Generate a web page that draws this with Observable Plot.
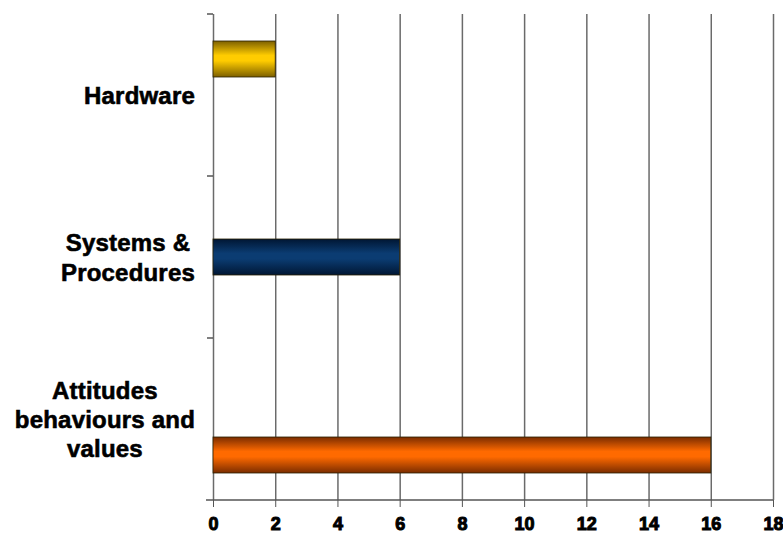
<!DOCTYPE html>
<html>
<head>
<meta charset="utf-8">
<script src="https://cdn.jsdelivr.net/npm/d3@7"></script>
<script src="https://cdn.jsdelivr.net/npm/@observablehq/plot@0.6"></script>
<style>
  html, body { margin: 0; padding: 0; background: #fff; }
  svg { display: block; }
</style>
</head>
<body>
<div id="chart"></div>
<script>
// ---- data ----
const categories = ["Hardware", "Systems & Procedures", "Attitudes behaviours and values"];
const categoryLabels = ["Hardware", "Systems &\nProcedures", "Attitudes\nbehaviours and\nvalues"];
const values = [2, 6, 16];
const xTicks = [0, 2, 4, 6, 8, 10, 12, 14, 16, 18];

// ---- styles (gradient stops per series: edge, centre) ----
const gradients = [
  ["#7d6000", "#ffcc00"],
  ["#001633", "#0b3c72"],
  ["#7a2c00", "#ff6a00"]
];

const data = categories.map((c, i) => ({category: c, value: values[i]}));
const labelOf = new Map(categories.map((c, i) => [c, categoryLabels[i]]));

const chart = Plot.plot({
  width: 783,
  height: 535,
  marginLeft: 213,
  marginRight: 10,
  marginTop: 13,
  marginBottom: 35,
  style: {fontFamily: "'Liberation Sans', Arial, sans-serif", background: "#fff", color: "#000"},
  x: {domain: [0, d3.max(xTicks)]},
  y: {domain: categories, paddingInner: 0, paddingOuter: 0.69, axis: null},
  fy: {domain: categories, padding: 0},
  color: {domain: categories, range: categories.map((c, i) => `url(#grad${i})`)},
  marks: [
    Plot.gridX({ticks: xTicks, stroke: "#6a6a6a", strokeOpacity: 1, strokeWidth: 1.5}),
    Plot.barX(data, {fy: "category", y: "category", x: "value", fill: "category", stroke: "#2a2000", strokeWidth: 0.8}),
    Plot.axisX({ticks: xTicks, tickSize: 7, tickPadding: 10, fontSize: 18, fontWeight: "bold", stroke: "#555", fill: "#000", label: null}),
    Plot.axisFy({anchor: "left", tickSize: 0, tickPadding: 20, tickFormat: c => labelOf.get(c), fontSize: 24, fontWeight: "bold", lineHeight: 1.22, textAnchor: "middle", fill: "#000", label: null, dy: -1})
  ]
});

document.getElementById("chart").appendChild(chart);

// gradients
const svg = d3.select(chart);
const defs = svg.insert("defs", ":first-child");
gradients.forEach(([edge, mid], i) => {
  const g = defs.append("linearGradient").attr("id", `grad${i}`)
    .attr("x1", 0).attr("y1", 0).attr("x2", 0).attr("y2", 1);
  g.append("stop").attr("offset", "0%").attr("stop-color", edge);
  g.append("stop").attr("offset", "40%").attr("stop-color", mid);
  g.append("stop").attr("offset", "55%").attr("stop-color", mid);
  g.append("stop").attr("offset", "100%").attr("stop-color", edge);
});

// axis decorations from the library's scales
const fy = chart.scale("fy");
const xs = chart.scale("x");
const x0 = xs.apply(0);
const xEnd = xs.apply(d3.max(xTicks));
const deco = svg.append("g").attr("stroke", "#555").attr("stroke-width", 1.5);
fy.domain.forEach(c => {
  const yy = fy.apply(c);
  deco.append("line").attr("x1", x0 - 6).attr("x2", x0).attr("y1", yy).attr("y2", yy);
});
const yBottom = fy.apply(fy.domain[fy.domain.length - 1]) + fy.bandwidth;
deco.append("line").attr("x1", x0 - 7).attr("x2", xEnd).attr("y1", yBottom).attr("y2", yBottom);

// heavier x tick labels
svg.selectAll('g[aria-label="x-axis tick label"] text')
  .attr("stroke", "#000").attr("stroke-width", 1);

// category labels: centred lines, block right-aligned next to the axis
const svgRect = chart.getBoundingClientRect();
svg.selectAll('g[aria-label="fy-axis tick label"] text').each(function() {
  this.setAttribute("letter-spacing", "0.2");
  this.setAttribute("stroke", "#000");
  this.setAttribute("stroke-width", "0.6");
  const r = this.getBoundingClientRect();
  const right = r.right - svgRect.left;
  const shift = 195 - right;
  this.setAttribute("transform", (this.getAttribute("transform") || "") + ` translate(${shift},0)`);
});
</script>
</body>
</html>
